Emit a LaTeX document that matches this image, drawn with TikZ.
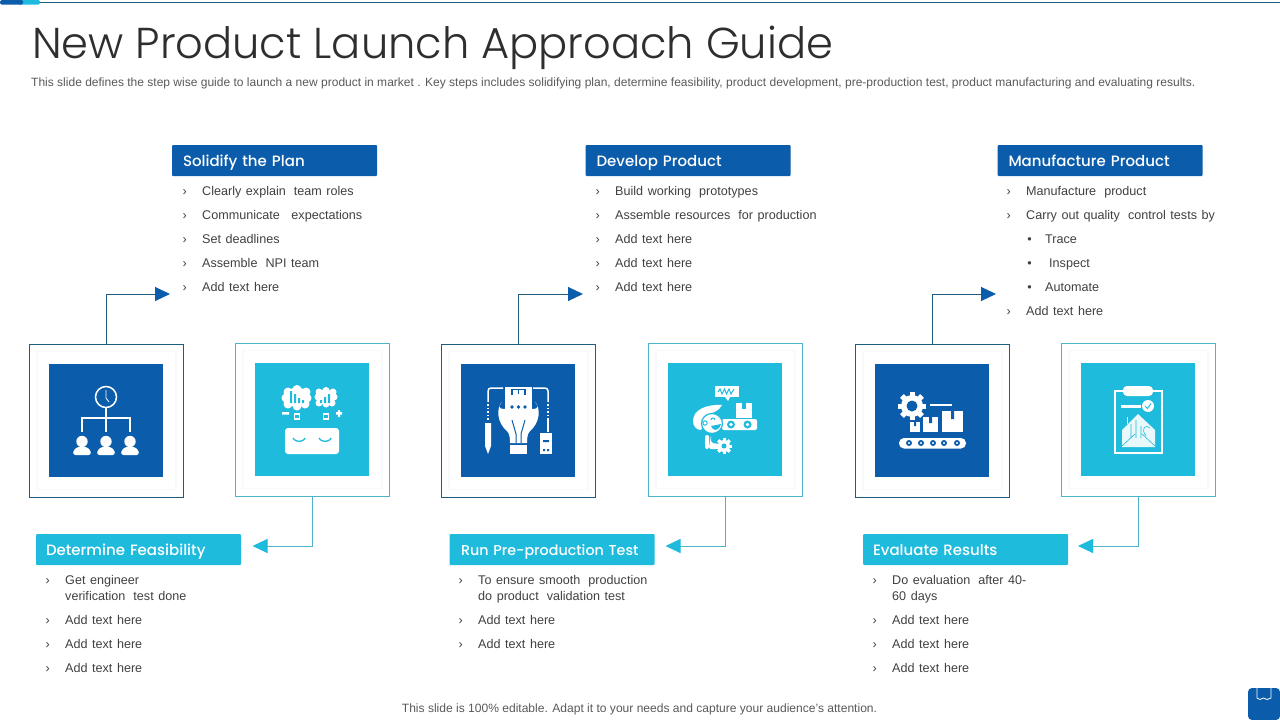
\documentclass[tikz,border=0pt]{standalone}
\usepackage{fontspec}
\setmainfont{Liberation Sans}
\newfontfamily\titlefont{Poppins Light}
\newfontfamily\headfont{Poppins Medium}
\newfontfamily\bodyfont[WordSpace=1.3]{Liberation Sans}
\usetikzlibrary{positioning,arrows.meta}
\definecolor{headblue}{HTML}{0B5CAB}
\definecolor{headcyan}{HTML}{1FBBDD}
\definecolor{linedark}{HTML}{1F5C80}
\definecolor{linecyan}{HTML}{4FB3C9}
\definecolor{faintline}{HTML}{F8F9FA}
\definecolor{bodygrey}{HTML}{404040}
\newcommand{\gap}{\hspace{3.5pt}}
\tikzset{
    head/.style={rectangle, rounded corners=1pt, minimum width=205pt, minimum height=31pt, inner ysep=0pt, text=white, font=\headfont\fontsize{15}{18}\selectfont, text height=13pt, text depth=1pt, align=left},
    darkhead/.style={head, fill=headblue, inner xsep=11pt, text width=183pt},
    lighthead/.style={head, fill=headcyan, inner xsep=10pt, text width=185pt},
    darkframe/.style={rectangle, draw=linedark, line width=1pt, minimum width=154pt, minimum height=153pt},
    lightframe/.style={rectangle, draw=linecyan, line width=1pt, minimum width=154pt, minimum height=153pt},
    faintframe/.style={rectangle, draw=faintline, line width=1.5pt, minimum width=139pt, minimum height=138pt},
    darktile/.style={rectangle, fill=headblue, minimum width=114pt, minimum height=113pt},
    lighttile/.style={rectangle, fill=headcyan, minimum width=114pt, minimum height=113pt},
    itemplain/.style={anchor=west, inner sep=0pt, text height=12pt, text depth=2pt, text=bodygrey, font=\bodyfont\fontsize{12.6}{15}\selectfont},
    itemtext/.style={itemplain, label={[inner sep=0pt, label distance=15pt, yshift=-2.5pt, text=bodygrey, font=\fontsize{12.6}{15}\selectfont]left:›}},
    subitem/.style={itemplain, label={[inner sep=0pt, label distance=#1, yshift=-2.5pt, text=bodygrey, font=\fontsize{12.6}{15}\selectfont]left:•}},
    nextitem/.style={below=24pt of #1.west, anchor=west},
    nextline/.style={below=16pt of #1.west, anchor=west},
    darkline/.style={draw=linedark, line width=1pt, -{Triangle[length=15pt, width=14pt, fill=headblue, color=headblue]}},
    lightline/.style={draw=linecyan, line width=1pt, -{Triangle[length=15pt, width=14pt, fill=headcyan, color=headcyan]}}
}
\begin{document}
\begin{tikzpicture}[x=1pt, y=-1pt]
    \useasboundingbox (0,0) rectangle (1280,720);

    % top strip
    \draw[linedark, line width=1pt] (30,2) -- (1280,2);
    \fill[headcyan, rounded corners=1.5pt] (18,0) rectangle (40,4.5);
    \fill[headblue, rounded corners=1.5pt] (0,0) rectangle (23,4.5);

    \node[anchor=base west, inner sep=0pt, text=black!82, font=\titlefont\fontsize{43.2}{50}\selectfont] (title) at (32,58) {New Product Launch Approach Guide};
    \node[anchor=west, inner sep=0pt, text=black!65, font=\fontsize{12.02}{14}\selectfont] (subtitle) at (31,83) {This slide defines the step wise guide to launch a new product in market . Key steps includes solidifying plan, determine feasibility, product development, pre-production test, product manufacturing and evaluating results.};

    % headings
    \node[darkhead] (plan) at (274.5,160.5) {Solidify the Plan};
    \node[darkhead] (develop) at (688,160.5) {Develop Product};
    \node[darkhead] (manufacture) at (1100,160.5) {Manufacture Product};
    \node[lighthead] (feasibility) at (138.5,549.5) {Determine Feasibility};
    \node[lighthead, font=\headfont\fontsize{14.3}{18}\selectfont] (preprod) at (552,549.5) {\hspace*{1.5pt}Run Pre-production Test};
    \node[lighthead] (evaluate) at (965.5,549.5) {Evaluate Results};

    % first list
    \node[itemtext] (p1) at (202,190) {Clearly explain\gap{} team roles};
    \node[itemtext, nextitem=p1] (p2) {Communicate\gap\gap{} expectations};
    \node[itemtext, nextitem=p2] (p3) {Set deadlines};
    \node[itemtext, nextitem=p3] (p4) {Assemble\gap{} NPI team};
    \node[itemtext, nextitem=p4] (p5) {Add text here};

    \node[itemtext] (d1) at (615,190) {Build working\gap{} prototypes};
    \node[itemtext, nextitem=d1] (d2) {Assemble resources\gap{} for production};
    \node[itemtext, nextitem=d2] (d3) {Add text here};
    \node[itemtext, nextitem=d3] (d4) {Add text here};
    \node[itemtext, nextitem=d4] (d5) {Add text here};

    \node[itemtext] (m1) at (1026,190) {Manufacture\gap{} product};
    \node[itemtext, nextitem=m1] (m2) {Carry out quality\gap{} control tests by};
    \node[subitem=13pt] (m3) at (1045,238) {Trace};
    \node[subitem=17pt, nextitem=m3, xshift=4pt] (m4) {Inspect};
    \node[subitem=13pt] (m5) at (1045,286) {Automate};
    \node[itemtext] (m6) at (1026,310) {Add text here};

    % second list
    \node[itemtext] (f1) at (65,579) {Get engineer};
    \node[itemplain, nextline=f1] (f1b) {verification\gap{} test done};
    \node[itemtext, nextitem=f1b] (f2) {Add text here};
    \node[itemtext, nextitem=f2] (f3) {Add text here};
    \node[itemtext, nextitem=f3] (f4) {Add text here};

    \node[itemtext] (r1) at (478,579) {To ensure smooth\gap{} production};
    \node[itemplain, nextline=r1] (r1b) {do product\gap{} validation test};
    \node[itemtext, nextitem=r1b] (r2) {Add text here};
    \node[itemtext, nextitem=r2] (r3) {Add text here};

    \node[itemtext] (e1) at (892,579) {Do evaluation\gap{} after 40-};
    \node[itemplain, nextline=e1] (e1b) {60 days};
    \node[itemtext, nextitem=e1b] (e2) {Add text here};
    \node[itemtext, nextitem=e2] (e3) {Add text here};
    \node[itemtext, nextitem=e3] (e4) {Add text here};

    % frames
    \node[darkframe] (fr1) at (106.5,421) {};
    \node[faintframe] (fa1) at (106.5,420.5) {};
    \node[darktile] (ti1) at (106,420.5) {};
    \node[lightframe] (fr2) at (312.5,420) {};
    \node[faintframe] (fa2) at (312.5,419.5) {};
    \node[lighttile] (ti2) at (312,419.5) {};
    \node[darkframe] (fr3) at (518.5,421) {};
    \node[faintframe] (fa3) at (518.5,420.5) {};
    \node[darktile] (ti3) at (518,420.5) {};
    \node[lightframe] (fr4) at (725.5,420) {};
    \node[faintframe] (fa4) at (725.5,419.5) {};
    \node[lighttile] (ti4) at (725,419.5) {};
    \node[darkframe] (fr5) at (932.5,421) {};
    \node[faintframe] (fa5) at (932.5,420.5) {};
    \node[darktile] (ti5) at (932,420.5) {};
    \node[lightframe] (fr6) at (1138.5,420) {};
    \node[faintframe] (fa6) at (1138.5,419.5) {};
    \node[lighttile] (ti6) at (1138,419.5) {};

    % connectors
    \coordinate (a1) at (170,294);
    \coordinate (a2) at (252.5,546);
    \coordinate (a3) at (583,294);
    \coordinate (a4) at (665.5,546);
    \coordinate (a5) at (996,294);
    \coordinate (a6) at (1078,546);
    \draw[darkline] (fr1.north) |- (a1);
    \draw[lightline] (fr2.south) |- (a2);
    \draw[darkline] (fr3.north) |- (a3);
    \draw[lightline] (fr4.south) |- (a4);
    \draw[darkline] (fr5.north) |- (a5);
    \draw[lightline] (fr6.south) |- (a6);

    % icon: clock and team
    \draw[white, line width=1.5pt] (106,397) circle (10.5);
    \draw[white, line width=0.8pt] (106,390) -- (106,398) -- (109,402);
    \draw[white, line width=1.4pt] (106,408) -- (106,432) (82,432) -- (82,418) -- (130,418) -- (130,432);
    \foreach \px in {82,106,130} {
        \fill[white] (\px,441.5) circle (5.7);
        \fill[white, rounded corners=3pt] (\px-9.5,455) -- (\px-8,449) -- (\px-3,446.5) -- (\px+3,446.5) -- (\px+8,449) -- (\px+9.5,455) -- cycle;
    }

    % icon: opinions and box
    \foreach \cx/\cy in {288/392,297/389.5,306/392,307/398,305/404,297/406,288/404,286/398} \fill[white] (\cx,\cy) circle (4.5);
    \fill[white] (297,397) circle (10);
    \foreach \cx/\cy in {319/392,326/390.5,333/392,334/397,332/403,326/404,319/403,318/397} \fill[white] (\cx,\cy) circle (3.5);
    \fill[white] (326,397) circle (8);
    \fill[headcyan] (290,391) rectangle (292,403) (294,394) rectangle (296,403) (298,398) rectangle (300,403) (302,400) rectangle (304,403);
    \fill[headcyan] (320,400) rectangle (322,403) (324,397) rectangle (326,403) (328,394) rectangle (330,403);
    \fill[white] (282,412) rectangle (289,414.5) (336,412) rectangle (342,414.5) (338,410) rectangle (340,417);
    \draw[white, line width=1.4pt] (294.5,414) rectangle (299.5,419) (323.5,414) rectangle (328.5,419);
    \fill[white, rounded corners=3pt] (285,428) rectangle (339,454);
    \draw[headcyan, line width=1.3pt] (293,438) arc[start angle=200, end angle=340, x radius=6.5, y radius=-5];
    \draw[headcyan, line width=1.3pt] (319,438) arc[start angle=200, end angle=340, x radius=6.5, y radius=-5];

    % icon: idea and tools
    \fill[white] (505,387) rectangle (532,415);
    \draw[headblue, line width=1.2pt] (512,395) -- (512,389.5) -- (525,389.5) -- (525,395) (518.5,389.5) -- (518.5,394);
    \foreach \px in {512,518.5,525} \fill[headblue] (\px,407) circle (1.8);
    \fill[white] (505,409) .. controls (497,409) and (499,405) .. (502,402) .. controls (496,408) and (497,423) .. (507,431) .. controls (510,434) and (510,440) .. (510,443) -- (527,443) .. controls (527,440) and (527,434) .. (530,431) .. controls (540,423) and (541,408) .. (535,402) .. controls (538,405) and (540,409) .. (532,409) -- (532,415) -- (505,415) -- cycle;
    \draw[headblue, line width=1pt] (512,420) -- (516,434) -- (516,443) (525,420) -- (521,434) -- (521,443);
    \fill[white] (510,445) rectangle (527,454);
    \draw[white, line width=1.5pt, rounded corners=3pt] (503,388) -- (488,388) -- (488,402);
    \draw[white, line width=1.5pt, dotted] (488,404) -- (488,421);
    \draw[white, line width=1.5pt, rounded corners=3pt] (533,388) -- (548,388) -- (548,402);
    \draw[white, line width=1.5pt, dotted] (548,404) -- (548,420);
    \draw[white, line width=1.5pt] (548,420) -- (548,432);
    \fill[white] (485,423) rectangle (491,441) -- (491,446) -- (488,454) -- (485,446) -- (485,441);
    \fill[white] (540,433) rectangle (552,454);
    \fill[headblue] (543,440) rectangle (549,442) (543,449) rectangle (545,451) (547,449) rectangle (549,451);

    % icon: worker and conveyor
    \fill[white] (715,386) rectangle (739,397);
    \fill[white] (725,397) -- (730,397) -- (728,401) -- cycle;
    \draw[headcyan, line width=1pt] (718,392) -- (720,389) -- (722,394) -- (724.5,389) -- (726.5,394) -- (729,389) -- (731,394) -- (734,389);
    \fill[white] (736,403) rectangle (752,418);
    \fill[headcyan] (742,403) rectangle (746,409);
    \fill[white, rounded corners=2pt] (722,419) rectangle (757,430);
    \foreach \px in {731,747.5} {
        \fill[headcyan] (\px,424.5) circle (4);
        \fill[white] (\px,424.5) circle (1.8);
    }
    \fill[white] (722,405) .. controls (706,404) and (693,410) .. (693,421) .. controls (693,426) and (696,430) .. (701,430) -- (708,414) .. controls (713,413) and (719,411) .. (722,405) -- cycle;
    \draw[headcyan, fill=white, line width=1.2pt] (712,423.5) ellipse (10.5 and 10);
    \draw[headcyan, line width=1pt] (705,423) circle (2.2);
    \draw[headcyan, line width=1pt] (711,420) arc[start angle=180, end angle=0, radius=2, y radius=-2];
    \fill[headcyan] (711,426) -- (721,424) .. controls (719,431) and (713,432) .. (711,426) -- cycle;
    \fill[white, rounded corners=2pt] (705,435) rectangle (709,449) -- (721,449) -- (721,444) -- (711,443) -- (711,435) -- cycle;
    \foreach \a in {0,45,...,315} \fill[white, shift={(724,446)}, rotate=\a] (-1.5,-8) rectangle (1.5,8);
    \fill[white] (724,446) circle (6);
    \fill[headcyan] (724,446) circle (2.5);

    % icon: gear and boxes
    \foreach \a in {0,45,...,315} \fill[white, shift={(912,406)}, rotate=\a] (-2.5,-14) rectangle (2.5,14);
    \fill[white] (912,406) circle (11);
    \fill[headblue] (912,406) circle (5.5);
    \fill[white] (930,404) rectangle (952,406);
    \fill[white] (910,422) rectangle (920,432);
    \fill[white] (923,417) rectangle (938,432);
    \fill[white] (942,411) rectangle (963,432);
    \fill[headblue] (914,422) rectangle (916,426) (929,417) rectangle (932,423) (951,411) rectangle (954,419);
    \fill[white, rounded corners=5pt] (899,438) rectangle (966,448.5);
    \foreach \px in {909,921,933,944,957} {
        \fill[headblue] (\px,443) circle (3);
        \fill[white] (\px,443) circle (1.1);
    }

    % icon: clipboard and report
    \draw[white, line width=1.2pt] (1115,391) rectangle (1162,453);
    \fill[white, rounded corners=4pt] (1123,386) rectangle (1153,396);
    \fill[white] (1121,405) rectangle (1141,407.5);
    \fill[white] (1148,406) circle (6);
    \draw[headcyan, line width=1pt] (1145,406) -- (1147.5,408.5) -- (1151,403.5);
    \fill[white, opacity=0.9] (1122,430) -- (1138,414) -- (1155,430) -- (1155,447) -- (1122,447) -- cycle;
    \draw[headcyan, line width=0.6pt] (1122,446) -- (1135,434) (1155,446) -- (1142,434) (1131,438) -- (1131,424) (1136,438) -- (1136,420) (1141,438) -- (1141,426) (1146,436) .. controls (1140,428) and (1146,424) .. (1150,428);
    \fill[white] (1127,417) rectangle (1128,424);

    \node[inner sep=0pt, text=black!65, font=\fontsize{12.05}{14}\selectfont] (footer) at (639.5,709) {This slide is 100\% editable. Adapt it to your needs and capture your audience's attention.};

    % corner badge
    \fill[headblue, rounded corners=4pt] (1248,688) rectangle (1280,720);
    \draw[white, line width=0.8pt] (1257,688) -- (1257,698) -- (1260,699.5) -- (1263.5,698) -- (1267,699.5) -- (1271,698) -- (1271,688);
\end{tikzpicture}
\end{document}
